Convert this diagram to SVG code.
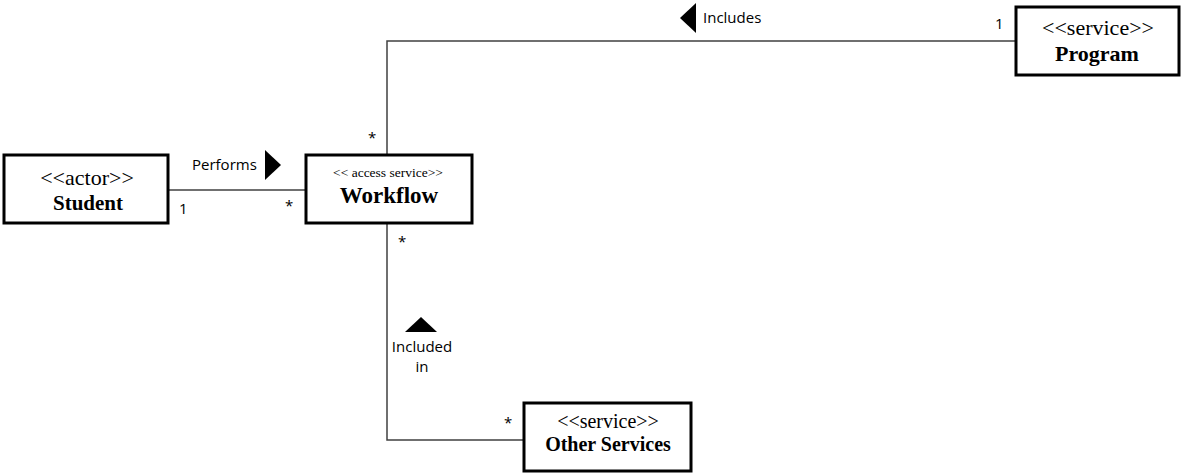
<svg xmlns="http://www.w3.org/2000/svg" width="1181" height="473" viewBox="0 0 1181 473">
<style>
.box{fill:#fff;stroke:#000;stroke-width:3}
.st{font-family:"Liberation Serif",serif;font-size:20px;fill:#000;text-anchor:middle}
.nm{font-family:"Liberation Serif",serif;font-size:21px;font-weight:bold;fill:#000;text-anchor:middle}
.sm{font-family:"Liberation Serif",serif;font-size:13.5px;fill:#000;text-anchor:middle}
.lbl{font-family:"Open Sans",sans-serif;font-size:15px;fill:#000}
.con{fill:none;stroke:#404040;stroke-width:1.5}
.tri{fill:#000}
</style>
<g id="connectors">
<path class="con" d="M169,190 H305"/>
<path class="con" d="M387,154 V41 H1015"/>
<path class="con" d="M387,223 V440 H523"/>
<polygon class="tri" points="265,150 281,165 265,180"/>
<polygon class="tri" points="696,3 680,18 696,33"/>
<polygon class="tri" points="405,332 421,317 437,332"/>
<text class="lbl" x="192" y="170">Performs</text>
<text class="lbl" x="703" y="23">Includes</text>
<text class="lbl" x="422" y="352" text-anchor="middle">Included</text>
<text class="lbl" x="422" y="372" text-anchor="middle">in</text>
<text class="lbl" x="179" y="214">1</text>
<text class="lbl" x="285" y="211">*</text>
<text class="lbl" x="368" y="143">*</text>
<text class="lbl" x="398" y="247">*</text>
<text class="lbl" x="504" y="428">*</text>
<text class="lbl" x="995" y="29">1</text>
</g>
<g id="student">
<rect class="box" x="4" y="155" width="164" height="68"/>
<text class="st" x="87" y="185" style="font-size:22px">&lt;&lt;actor&gt;&gt;</text>
<text class="nm" x="88" y="210">Student</text>
</g>
<g id="workflow">
<rect class="box" x="306" y="155" width="166" height="68"/>
<text class="sm" x="388" y="177">&lt;&lt; access service&gt;&gt;</text>
<text class="nm" x="389" y="203" style="font-size:23px">Workflow</text>
</g>
<g id="program">
<rect class="box" x="1016" y="7" width="163" height="68"/>
<text class="st" x="1098" y="35" style="font-size:22px">&lt;&lt;service&gt;&gt;</text>
<text class="nm" x="1097" y="61" style="font-size:22px">Program</text>
</g>
<g id="other-services">
<rect class="box" x="524" y="403" width="167" height="68"/>
<text class="st" x="608" y="428">&lt;&lt;service&gt;&gt;</text>
<text class="nm" x="608" y="451" style="font-size:20px">Other Services</text>
</g>
</svg>
